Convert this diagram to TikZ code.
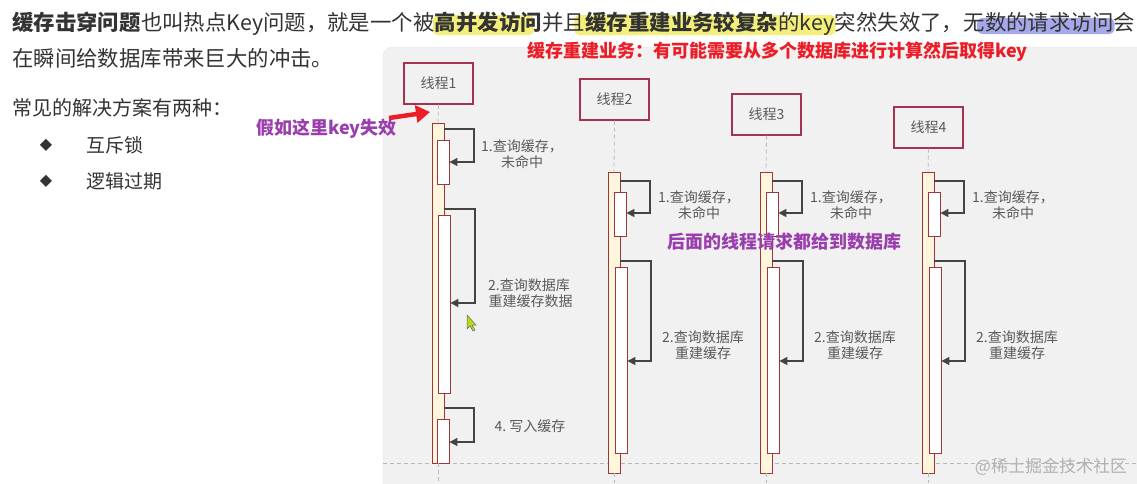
\documentclass[tikz,border=0pt]{standalone}
\usepackage{fontspec}
\setmainfont{Noto Sans CJK SC}
\newfontfamily\dejavu{DejaVu Sans}
\usetikzlibrary{arrows.meta,calc}
\pgfdeclarelayer{bg}
\pgfsetlayers{bg,main}
\definecolor{txt}{HTML}{333333}
\definecolor{hlY}{HTML}{F4EF7A}
\definecolor{hlB}{HTML}{A6A8EA}
\definecolor{redT}{HTML}{EC1D26}
\definecolor{purp}{HTML}{9A3DAD}
\definecolor{panel}{HTML}{F1F1F1}
\definecolor{panelb}{HTML}{E0E0E0}
\definecolor{boxc}{HTML}{A3334F}
\definecolor{barc}{HTML}{A0363A}
\definecolor{barf}{HTML}{FDF6DC}
\definecolor{lbl}{HTML}{5A5A5A}
\definecolor{arr}{HTML}{444444}
\tikzset{
  t21/.style={inner sep=0pt, anchor=base west, text=txt, font=\fontsize{21.4pt}{25pt}\selectfont},
  b21/.style={t21, font=\fontsize{21.4pt}{25pt}\selectfont\bfseries},
  t19/.style={inner sep=0pt, anchor=base west, text=txt, font=\fontsize{19pt}{23pt}\selectfont},
  bul/.style={inner sep=0pt, anchor=center, text=txt, font=\dejavu\fontsize{16pt}{18pt}\selectfont},
  note/.style={inner sep=0pt, anchor=west, font=\fontsize{18pt}{22pt}\selectfont\bfseries},
  thread/.style={draw=boxc, line width=1.2pt, minimum width=69pt, minimum height=41pt, text=lbl, font=\fontsize{14pt}{16pt}\selectfont, inner sep=0pt},
  outerbar/.style={draw=barc, fill=barf, line width=0.8pt, minimum width=12pt, inner sep=0pt},
  innerbar/.style={draw=barc, fill=white, line width=0.8pt, minimum width=12pt, inner sep=0pt},
  lifeline/.style={draw=gray!55, dash pattern=on 4pt off 3pt, line width=0.8pt},
  msg/.style={draw=arr, line width=1.1pt, -{Triangle[length=8pt,width=8pt]}},
  steplbl/.style={text=lbl, font=\fontsize{14pt}{16pt}\selectfont, align=center, inner sep=0pt},
}
\begin{document}
\begin{tikzpicture}[x=1pt,y=-1pt]
\useasboundingbox (0,0) rectangle (1137,483);
\begin{pgfonlayer}{bg}
\fill[white] (0,0) rectangle (1137,483);
\end{pgfonlayer}

% panel
\draw[fill=panel, draw=panelb, rounded corners=10pt] (383,47) rectangle (1170,510);

% top text line 1
\node[b21] (l1a) at (12,30) {缓存击穿问题};
\node[t21] (l1b) at (l1a.base east) {也叫热点Key问题，就是一个被};
\node[b21] (l1c) at (l1b.base east) {高并发访问};
\node[t21] (l1d) at (l1c.base east) {并且};
\node[b21] (l1e) at (l1d.base east) {缓存重建业务较复杂};
\node[t21] (l1f) at (l1e.base east) {的key};
\node[t21] (l1g) at (l1f.base east) {突然失效了，无};
\node[t21] (l1h) at (l1g.base east) {数的请求访问};
\node[t21] (l1i) at (l1h.base east) {会};
\begin{pgfonlayer}{bg}
\fill[hlY, rounded corners=5pt] ($(l1c.west |- 0,15)+(-2,0)$) rectangle ($(l1c.east |- 0,35)+(-8,0)$);
\fill[hlY, rounded corners=5pt] ($(l1d.east |- 0,15)+(-11,0)$) rectangle ($(l1f.east |- 0,35)+(1,0)$);
\fill[hlB, rounded corners=6pt] ($(l1h.west |- 0,18)+(-8,0)$) rectangle ($(l1h.east |- 0,34)+(1,0)$);
\end{pgfonlayer}

\node[t21] (l2) at (12,66) {在瞬间给数据库带来巨大的冲击。};
\node[t21, font=\fontsize{20pt}{24pt}\selectfont] (l3) at (12,115) {常见的解决方案有两种：};
\node[bul] (d1) at (46,145) {◆};
\node[t19] (s1) at (86,152) {互斥锁};
\node[bul] (d2) at (46,181) {◆};
\node[t19] (s2) at (86,188) {逻辑过期};

% annotations
\node[note, text=redT] (rt) at (527,52) {缓存重建业务：有可能需要从多个数据库进行计算然后取得key};
\node[note, text=purp] (pk) at (256,129) {假如这里key失效};

% threads
\node[thread] (t1) at (438.5,83.5) {线程1};
\node[thread] (t2) at (614.5,99.5) {线程2};
\node[thread] (t3) at (766.5,114.5) {线程3};
\node[thread] (t4) at (928.5,127.5) {线程4};

% bottom dashed line
\coordinate (hl) at (383,463);
\coordinate (hr) at (1137,463);
\draw[lifeline] (hl) -- (hr);

% thread 1 bars
\node[outerbar, minimum height=340pt] (o1) at (438,293) {};
\node[innerbar, minimum height=44pt] (a1) at (443,162) {};
\node[innerbar, minimum height=178pt] (b1) at (444,304) {};
\node[innerbar, minimum height=44pt] (c1) at (443,441) {};
% threads 2-4 bars
\node[outerbar, minimum height=301pt] (o2) at (614,322.5) {};
\node[innerbar, minimum height=44pt] (a2) at (620,214) {};
\node[innerbar, minimum height=186pt] (b2) at (621,360) {};
\node[outerbar, minimum height=301pt] (o3) at (766,322.5) {};
\node[innerbar, minimum height=44pt] (a3) at (772,214) {};
\node[innerbar, minimum height=186pt] (b3) at (773,360) {};
\node[outerbar, minimum height=301pt] (o4) at (928,322.5) {};
\node[innerbar, minimum height=44pt] (a4) at (934,214) {};
\node[innerbar, minimum height=186pt] (b4) at (935,360) {};

% lifelines
\coordinate (e1) at (438,483);
\coordinate (e2) at (614,483);
\coordinate (e3) at (766,483);
\coordinate (e4) at (928,483);
\draw[lifeline] (t1.south) -- (o1.north);
\draw[lifeline] (o1.south) -- (e1);
\draw[lifeline] (t2.south) -- (o2.north);
\draw[lifeline] (o2.south) -- (e2);
\draw[lifeline] (t3.south) -- (o3.north);
\draw[lifeline] (o3.south) -- (e3);
\draw[lifeline] (t4.south) -- (o4.north);
\draw[lifeline] (o4.south) -- (e4);

% self messages thread 1
\draw[msg] (o1.east |- 0,129) -- (474,129) -- (474,162) -- (a1.east |- 0,162);
\draw[msg] (o1.east |- 0,209) -- (475,209) -- (475,303) -- (b1.east |- 0,303);
\draw[msg] (o1.east |- 0,408) -- (474,408) -- (474,442) -- (c1.east |- 0,442);
\node[steplbl] (m11) at (522,154) {1.查询缓存，\\未命中};
\node[steplbl] (m12) at (529,293) {2.查询数据库\\\ 重建缓存数据};
\node[steplbl] (m14) at (530,426) {4.\ 写入缓存};

% thread 2
\draw[msg] (o2.east |- 0,181) -- (650,181) -- (650,213) -- (a2.east |- 0,213);
\draw[msg] (o2.east |- 0,261) -- (651,261) -- (651,361) -- (b2.east |- 0,361);
\node[steplbl] (m21) at (699,205.5) {1.查询缓存，\\未命中};
\node[steplbl] (m22) at (703,345) {2.查询数据库\\重建缓存};
% thread 3
\draw[msg] (o3.east |- 0,181) -- (802,181) -- (802,213) -- (a3.east |- 0,213);
\draw[msg] (o3.east |- 0,261) -- (803,261) -- (803,361) -- (b3.east |- 0,361);
\node[steplbl] (m31) at (851,205.5) {1.查询缓存，\\未命中};
\node[steplbl] (m32) at (855,345) {2.查询数据库\\重建缓存};
% thread 4
\draw[msg] (o4.east |- 0,181) -- (964,181) -- (964,213) -- (a4.east |- 0,213);
\draw[msg] (o4.east |- 0,261) -- (965,261) -- (965,361) -- (b4.east |- 0,361);
\node[steplbl] (m41) at (1013,205.5) {1.查询缓存，\\未命中};
\node[steplbl] (m42) at (1017,345) {2.查询数据库\\重建缓存};

% purple note over the bars
\node[note, text=purp] (pl) at (667,242) {后面的线程请求都给到数据库};

% red arrow
\coordinate (ra) at (389,118);
\coordinate (rb) at (430,112);
\draw[redT, line width=4.5pt, -{Triangle[length=14pt,width=17pt]}] (ra) -- (rb);

% cursor
\filldraw[fill=yellow!70!green, draw=black!60, line width=0.5pt] (467,315) -- (467,329) -- (470,326) -- (473,331) -- (475,330) -- (472,325) -- (476,325) -- cycle;

% watermark
\node[inner sep=0pt, text=gray!60, font=\fontsize{17pt}{20pt}\selectfont] (wm) at (1051,467) {@稀土掘金技术社区};
\end{tikzpicture}
\end{document}
